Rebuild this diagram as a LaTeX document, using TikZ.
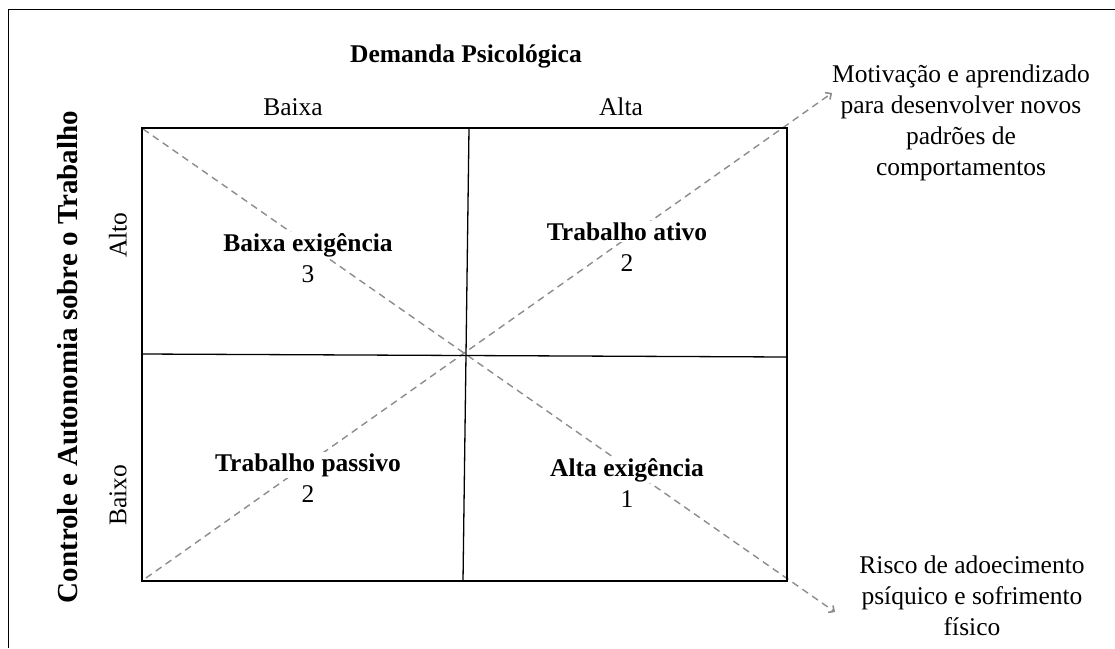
\documentclass[tikz,border=0pt]{standalone}
\usepackage{fontspec}
\setmainfont{Liberation Serif}
\usetikzlibrary{arrows.meta}
\begin{document}
\begin{tikzpicture}[x=1pt,y=-1pt,
  txt/.style={font=\fontsize{25.5}{31}\selectfont, inner sep=1pt, align=center},
  bold/.style={font=\fontsize{25.5}{31}\selectfont\bfseries, inner sep=1pt, align=center},
  qtitle/.style={bold, fill=white, inner sep=1.5pt, anchor=base},
  qnum/.style={txt, fill=white, inner sep=2pt, anchor=base},
  frame/.style={line width=1.5pt},
  grid/.style={line width=1.3pt},
  dashln/.style={draw=gray!90, line width=1.4pt, dash pattern=on 7pt off 5pt,
    -{Straight Barb[angle=90:6pt, line width=1.6pt]}}
]
\useasboundingbox (0,0) rectangle (1115,648);
\draw[frame] (8.5,648) -- (8.5,9.5) -- (1115,9.5);

\coordinate (tl) at (142,128);
\coordinate (br) at (787,581);
\coordinate (vt) at (469,128);
\coordinate (vb) at (463,581);
\coordinate (hl) at (142,354);
\coordinate (hr) at (787,357);
\coordinate (d1s) at (143,129);
\coordinate (d1e) at (835,612);
\coordinate (d2s) at (146,578);
\coordinate (d2e) at (832,93);

\draw[dashln] (d1s) -- (d1e);
\draw[dashln] (d2s) -- (d2e);
\draw[grid] (vt) -- (vb);
\draw[grid] (hl) -- (hr);
\draw[line width=2pt] (tl) rectangle (br);

\node[bold] (title) at (466,56) {Demanda Psicológica};
\node[txt] (lowd) at (293,107) {Baixa};
\node[txt] (highd) at (621,107) {Alta};
\node[font=\fontsize{29}{34}\selectfont\bfseries, inner sep=1pt, rotate=90] (ylab) at (68,357) {Controle e Autonomia sobre o Trabalho};
\node[txt, rotate=90] (highc) at (118,235) {Alto};
\node[txt, rotate=90] (lowc) at (118,495) {Baixo};

\node[qtitle] (q1t) at (308,251) {Baixa exigência};
\node[qnum] (q1n) at (308,282) {3};
\node[qtitle] (q2t) at (627,240) {Trabalho ativo};
\node[qnum] (q2n) at (627,271) {2};
\node[qtitle] (q3t) at (308,471) {Trabalho passivo};
\node[qnum] (q3n) at (308,502) {2};
\node[qtitle] (q4t) at (627,476) {Alta exigência};
\node[qnum] (q4n) at (627,507) {1};

\node[txt] (mot) at (961,123) {Motivação e aprendizado\\para desenvolver novos\\padrões de\\comportamentos};
\node[txt] (risk) at (972,596) {Risco de adoecimento\\psíquico e sofrimento\\físico};
\end{tikzpicture}
\end{document}
